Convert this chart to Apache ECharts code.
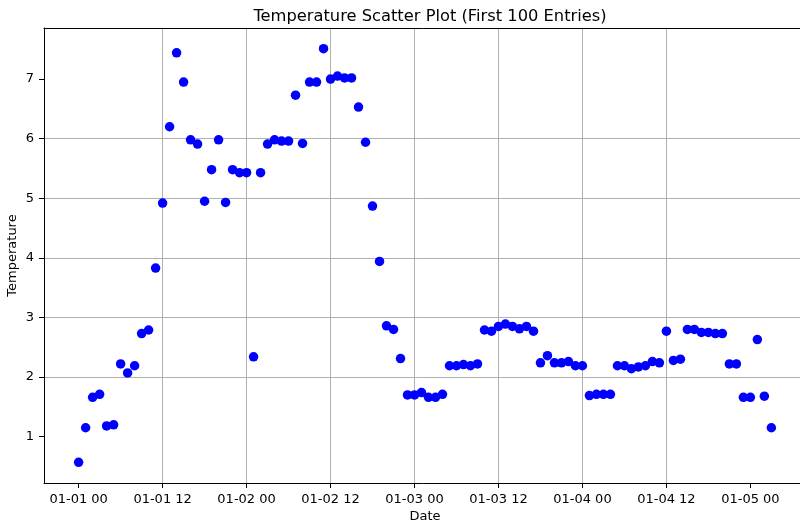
<!DOCTYPE html>
<html>
<head>
<meta charset="utf-8">
<script src="https://cdn.jsdelivr.net/npm/echarts@6/dist/echarts.min.js"></script>
<style>
  html, body { margin: 0; padding: 0; background: #fff; }
  #chart { width: 800px; height: 527px; }
</style>
</head>
<body>
<div id="chart"></div>
<script>
// Hourly entries starting 01-01 00 (first 100 entries)
const startLabel = '01-01 00';
const temperatures = [
  0.57, 1.15, 1.66, 1.71, 1.18, 1.20, 2.22, 2.07, 2.19, 2.73,
  2.79, 3.83, 4.92, 6.20, 7.44, 6.95, 5.98, 5.91, 4.95, 5.48,
  5.98, 4.93, 5.48, 5.43, 5.43, 2.34, 5.43, 5.91, 5.98, 5.96,
  5.96, 6.73, 5.92, 6.95, 6.95, 7.51, 7.00, 7.05, 7.02, 7.02,
  6.53, 5.94, 4.87, 3.94, 2.86, 2.80, 2.31, 1.70, 1.70, 1.74,
  1.66, 1.66, 1.71, 2.19, 2.19, 2.21, 2.19, 2.22, 2.79, 2.77,
  2.85, 2.89, 2.85, 2.81, 2.85, 2.77, 2.24, 2.36, 2.24, 2.24,
  2.26, 2.19, 2.19, 1.69, 1.71, 1.71, 1.71, 2.19, 2.19, 2.14,
  2.17, 2.19, 2.26, 2.24, 2.77, 2.28, 2.30, 2.80, 2.80, 2.75,
  2.75, 2.73, 2.73, 2.22, 2.22, 1.66, 1.66, 2.63, 1.68, 1.15
];
const xTickLabels = ['01-01 00', '01-01 12', '01-02 00', '01-02 12', '01-03 00',
                     '01-03 12', '01-04 00', '01-04 12', '01-05 00'];
const yTickValues = [1, 2, 3, 4, 5, 6, 7];

// hours elapsed since the start label
function labelToHours(s) {
  const d = parseInt(s.slice(3, 5), 10), h = parseInt(s.slice(6, 8), 10);
  const d0 = parseInt(startLabel.slice(3, 5), 10), h0 = parseInt(startLabel.slice(6, 8), 10);
  return (d - d0) * 24 + (h - h0);
}
const hours = temperatures.map((_, i) => i);          // one entry per hour
const xTickValues = xTickLabels.map(labelToHours);

// matplotlib-style 5% margins
const xSpan = hours[hours.length - 1] - hours[0];
const xMin = hours[0] - 0.05 * xSpan, xMax = hours[hours.length - 1] + 0.05 * xSpan;
const yLo = Math.min(...temperatures), yHi = Math.max(...temperatures);
const ySpan = yHi - yLo;
const yMin = yLo - 0.05 * ySpan, yMax = yHi + 0.05 * ySpan;

const font = 'DejaVu Sans';
const chart = echarts.init(document.getElementById('chart'), null, { renderer: 'canvas' });
chart.setOption({
  animation: false,
  backgroundColor: '#ffffff',
  title: {
    text: 'Temperature Scatter Plot (First 100 Entries)',
    left: 425, top: 4, textAlign: 'center',
    textStyle: { fontFamily: font, fontSize: 16.3, fontWeight: 'normal', color: '#000' }
  },
  grid: {
    left: 44, top: 28, right: -6, bottom: 44, containLabel: false, outerBoundsMode: 'none',
    show: false
  },
  xAxis: [{
    type: 'value', min: xMin, max: xMax,
    name: 'Date', nameLocation: 'middle', nameGap: 27, nameMoveOverlap: false,
    nameTextStyle: { fontFamily: font, fontSize: 13, color: '#000' },
    axisLine: { show: true, onZero: false, lineStyle: { color: '#000', width: 1 } },
    axisTick: { show: true, length: 5, lineStyle: { color: '#000', width: 1 }, customValues: xTickValues },
    axisLabel: {
      customValues: xTickValues, margin: 10, fontFamily: font, fontSize: 13, color: '#000',
      formatter: (v) => { const i = xTickValues.indexOf(v); return i >= 0 ? xTickLabels[i] : ''; }
    },
    splitLine: { show: true, showMinLine: false, showMaxLine: false, lineStyle: { color: '#b0b0b0', width: 1 } }
  }, {
    type: 'value', position: 'top', min: xMin, max: xMax,
    axisLine: { show: true, onZero: false, lineStyle: { color: '#000', width: 1 } },
    axisTick: { show: false }, axisLabel: { show: false }, splitLine: { show: false }
  }],
  yAxis: {
    type: 'value', min: yMin, max: yMax,
    name: 'Temperature', nameLocation: 'middle', nameGap: 25, nameRotate: 90, nameMoveOverlap: false,
    nameTextStyle: { fontFamily: font, fontSize: 13, color: '#000' },
    axisLine: { show: true, onZero: false, lineStyle: { color: '#000', width: 1 } },
    axisTick: { show: true, length: 5, lineStyle: { color: '#000', width: 1 }, customValues: yTickValues },
    axisLabel: { customValues: yTickValues, margin: 10, fontFamily: font, fontSize: 13, color: '#000' },
    splitLine: { show: true, showMinLine: false, showMaxLine: false, lineStyle: { color: '#b0b0b0', width: 1 } }
  },
  series: [{
    type: 'scatter',
    xAxisIndex: 0,
    data: hours.map((h, i) => [h, temperatures[i]]),
    symbol: 'circle', symbolSize: 9.5,
    itemStyle: { color: '#0000ff', opacity: 1 }
  }]
});
</script>
</body>
</html>
